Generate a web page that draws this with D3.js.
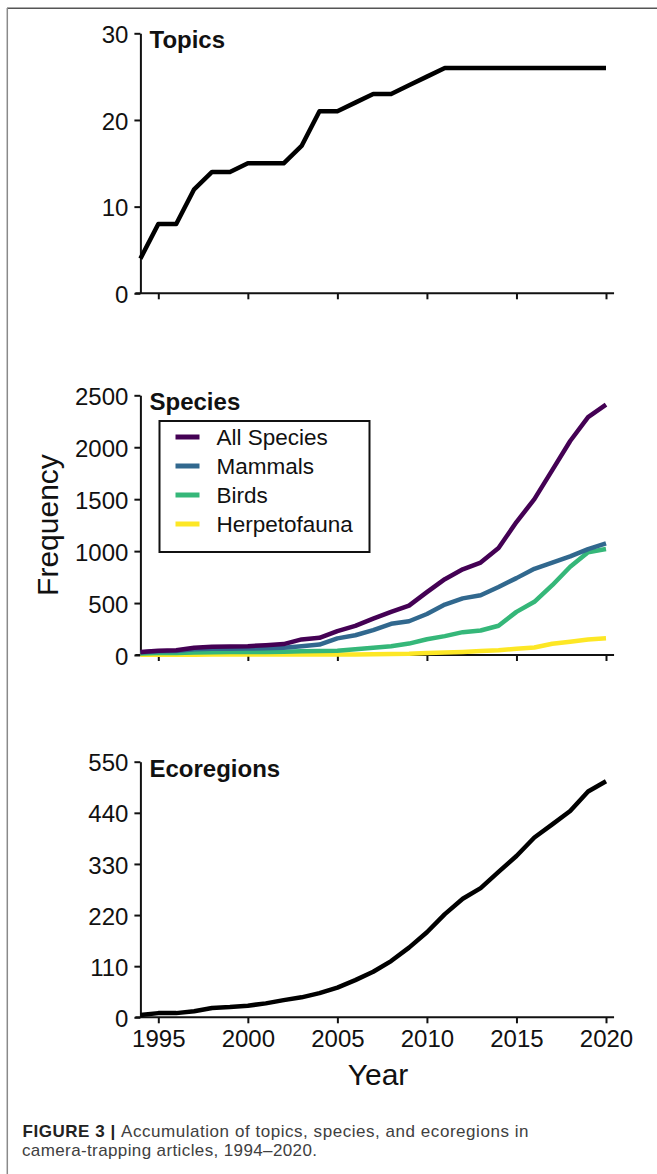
<!DOCTYPE html>
<html>
<head>
<meta charset="utf-8">
<script src="https://cdn.jsdelivr.net/npm/d3@7"></script>
<style>
  html, body { margin: 0; padding: 0; background: #fff; }
  svg { display: block; }
  text { font-family: "Liberation Sans", Arial, sans-serif; }
</style>
</head>
<body>
<svg id="fig" width="657" height="1174"></svg>
<script>
// Years covered by the accumulation curves
const years = d3.range(1994, 2021);

// Cumulative number of research topics
const topics = [4, 8, 8, 12, 14, 14, 15, 15, 15, 17, 21, 21, 22, 23, 23, 24, 25, 26,
  26, 26, 26, 26, 26, 26, 26, 26, 26];

// Cumulative number of species, by group
const allSpecies = [30, 40, 45, 70, 80, 82, 85, 95, 105, 150, 165, 230, 280, 350, 415, 475,
  605, 730, 825, 890, 1030, 1280, 1500, 1780, 2060, 2290, 2410];
const mammals = [25, 35, 38, 55, 60, 60, 62, 65, 70, 85, 100, 160, 190, 240, 300, 325,
  395, 485, 545, 575, 655, 740, 830, 890, 950, 1020, 1075];
const birds = [15, 20, 20, 25, 27, 28, 30, 30, 32, 35, 38, 40, 55, 70, 85, 110,
  152, 182, 220, 236, 282, 415, 512, 672, 850, 990, 1020];
const herpetofauna = [2, 3, 3, 3, 4, 4, 4, 4, 5, 5, 5, 5, 6, 8, 10, 12,
  20, 24, 30, 38, 45, 60, 72, 108, 128, 150, 162];

// Cumulative number of ecoregions
const ecoregions = [5, 9, 9, 13, 20, 22, 25, 30, 37, 43, 52, 64, 80, 98, 121, 150,
  183, 222, 255, 278, 313, 347, 387, 415, 444, 486, 508];

// Axis ticks
const yearTicks = [1995, 2000, 2005, 2010, 2015, 2020];
const topicTicks = [0, 10, 20, 30];
const speciesTicks = [0, 500, 1000, 1500, 2000, 2500];
const ecoTicks = [0, 110, 220, 330, 440, 550];

const speciesSeries = [
  { name: "All Species", values: allSpecies, color: "#440154" },
  { name: "Mammals", values: mammals, color: "#31688E" },
  { name: "Birds", values: birds, color: "#35B779" },
  { name: "Herpetofauna", values: herpetofauna, color: "#FDE725" }
];

const svg = d3.select("#fig");

// Figure frame (top and left rules)
svg.append("line").attr("x1", 7).attr("x2", 657).attr("y1", 8.3).attr("y2", 8.3)
  .attr("stroke", "#555").attr("stroke-width", 1.5);
svg.append("line").attr("x1", 7.3).attr("x2", 7.3).attr("y1", 8).attr("y2", 1174)
  .attr("stroke", "#8a8a8a").attr("stroke-width", 1.5);

const x = d3.scaleLinear().domain([1994, 2020]).range([140.4, 606]);
const xLineExtent = [1993.72, 2020.45];

const panels = [
  { title: "Topics", ticks: topicTicks, domain: [0, 30], range: [293.3, 33.3] },
  { title: "Species", ticks: speciesTicks, domain: [0, 2500], range: [655, 395.3] },
  { title: "Ecoregions", ticks: ecoTicks, domain: [0, 550], range: [1017.3, 761.7], yearLabels: true }
];

panels.forEach(p => { p.y = d3.scaleLinear().domain(p.domain).range(p.range); });

const lineGen = (yScale) => d3.line()
  .x((d, i) => x(years[i]))
  .y(d => yScale(d));

function drawAxes(p) {
  const g = svg.append("g");
  // y axis
  const ya = g.append("g").attr("transform", `translate(${x(1994)},0)`)
    .call(d3.axisLeft(p.y).tickValues(p.ticks).tickFormat(d3.format("d"))
      .tickSize(6).tickSizeOuter(0).tickPadding(6));
  ya.select(".domain").attr("stroke", "#111").attr("stroke-width", 2);
  ya.selectAll(".tick line").attr("stroke", "#111").attr("stroke-width", 2);
  ya.selectAll(".tick text").attr("font-size", 24).attr("fill", "#111")
    .attr("font-family", "'Liberation Sans', Arial, sans-serif").attr("dy", "0.38em");

  // x axis
  const base = p.y(0);
  const xa = g.append("g").attr("transform", `translate(0,${base})`)
    .call(d3.axisBottom(x).tickValues(yearTicks).tickSize(6).tickSizeOuter(0)
      .tickPadding(6).tickFormat(p.yearLabels ? d3.format("d") : () => ""));
  xa.select(".domain").remove();
  xa.append("line").attr("x1", x(xLineExtent[0])).attr("x2", x(xLineExtent[1]))
    .attr("y1", 0).attr("y2", 0).attr("stroke", "#111").attr("stroke-width", 2);
  xa.selectAll(".tick line").attr("stroke", "#111").attr("stroke-width", 2);
  xa.selectAll(".tick text").attr("font-size", 24).attr("fill", "#111")
    .attr("font-family", "'Liberation Sans', Arial, sans-serif").attr("dy", "0.75em");

  // panel title
  svg.append("text").attr("x", 149.5).attr("y", p.y(p.domain[1]) + 15)
    .attr("font-size", 24).attr("font-weight", "bold").attr("fill", "#111")
    .text(p.title);
}

panels.forEach(drawAxes);

// Topics curve
svg.append("path").datum(topics)
  .attr("d", lineGen(panels[0].y))
  .attr("fill", "none").attr("stroke", "#000").attr("stroke-width", 4.5)
  .attr("stroke-linejoin", "round");

// Species curves (yellow first so darker groups sit above it)
speciesSeries.slice().reverse().forEach(s => {
  svg.append("path").datum(s.values)
    .attr("d", lineGen(panels[1].y))
    .attr("fill", "none").attr("stroke", s.color).attr("stroke-width", 4.5)
    .attr("stroke-linejoin", "round");
});

// Ecoregions curve
svg.append("path").datum(ecoregions)
  .attr("d", lineGen(panels[2].y))
  .attr("fill", "none").attr("stroke", "#000").attr("stroke-width", 4.5)
  .attr("stroke-linejoin", "round");

// Legend for the species panel
const legend = svg.append("g").attr("transform", "translate(159.5,421)");
legend.append("rect").attr("width", 210).attr("height", 131)
  .attr("fill", "#fff").attr("stroke", "#111").attr("stroke-width", 2);
speciesSeries.forEach((s, i) => {
  const row = legend.append("g").attr("transform", `translate(0,${16 + i * 29})`);
  row.append("line").attr("x1", 16).attr("x2", 40).attr("y1", 0).attr("y2", 0)
    .attr("stroke", s.color).attr("stroke-width", 5);
  row.append("text").attr("x", 57).attr("y", 0).attr("dy", "0.36em")
    .attr("font-size", 22.5).attr("fill", "#111").text(s.name);
});

// Shared axis titles
svg.append("text")
  .attr("transform", "translate(58,525) rotate(-90)")
  .attr("text-anchor", "middle").attr("font-size", 30).attr("fill", "#111")
  .text("Frequency");
svg.append("text").attr("x", 378).attr("y", 1085)
  .attr("text-anchor", "middle").attr("font-size", 30).attr("fill", "#111")
  .text("Year");

// Caption
const cap = svg.append("text").attr("x", 22.5).attr("y", 1137)
  .attr("font-size", 17).attr("fill", "#404040")
  .attr("textLength", 506).attr("lengthAdjust", "spacing");
cap.append("tspan").attr("font-weight", "bold").attr("fill", "#222").text("FIGURE 3 | ");
cap.append("tspan").text("Accumulation of topics, species, and ecoregions in");
svg.append("text").attr("x", 22).attr("y", 1155.5)
  .attr("font-size", 17).attr("fill", "#404040")
  .attr("textLength", 295).attr("lengthAdjust", "spacing")
  .text("camera-trapping articles, 1994\u20132020.");
</script>
</body>
</html>
